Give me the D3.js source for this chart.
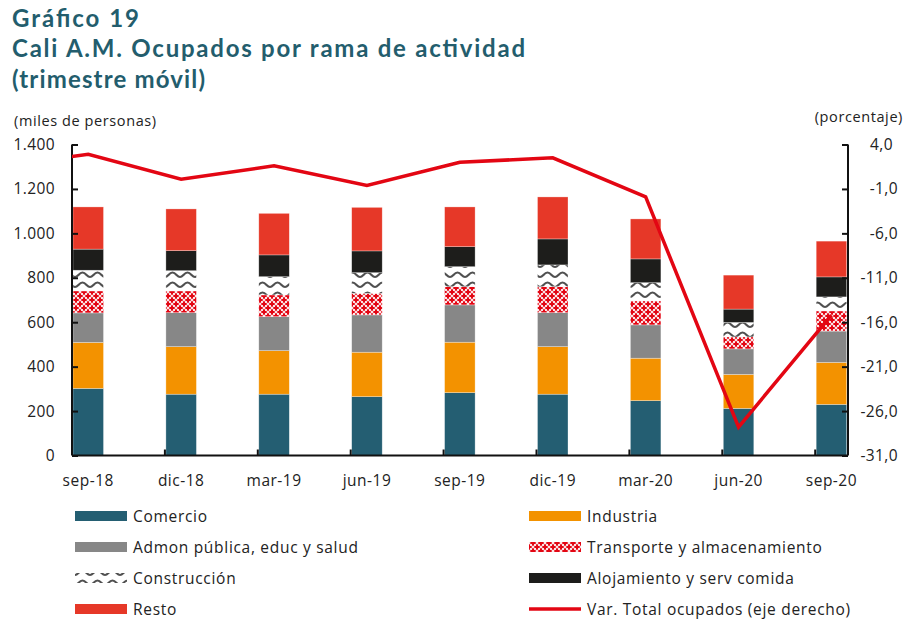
<!DOCTYPE html>
<meta charset="utf-8">
<script src="https://cdn.jsdelivr.net/npm/d3@7"></script>
<style>
  body { margin: 0; background: #fff; }
  text { font-family: "Open Sans", Lato, sans-serif; fill: #222; }
</style>
<div id="chart"></div>
<script>

// data (miles de personas)
var categories = ["sep-18","dic-18","mar-19","jun-19","sep-19","dic-19","mar-20","jun-20","sep-20"];
var comercio    = [302, 276, 276, 265, 283, 276, 247, 212, 230];
var industria   = [207, 214, 196, 200, 227, 214, 191, 153, 189];
var admon       = [133, 153, 153, 168, 168, 153, 150, 115, 141];
var transporte  = [ 99,  98,  98,  97,  82, 117, 108,  54,  91];
var construccion= [ 93,  91,  82,  93,  90,  98,  82,  65,  63];
var alojamiento = [ 95,  90,  98,  98,  90, 117, 107,  60,  90];
var resto       = [190, 188, 187, 196, 179, 189, 180, 153, 161];

// variacion anual total ocupados (%), the line starts one period before the first bar
var lineCats  = ["jun-18"].concat(categories);
var variacion = [1.4, 2.9, 0.1, 1.6, -0.6, 2.0, 2.5, -1.9, -27.8, -15.2];

var leftTicks  = [0, 200, 400, 600, 800, 1000, 1200, 1400];
var rightTicks = [4, -1, -6, -11, -16, -21, -26, -31];

var series = [
  {name: "Comercio", values: comercio, fill: "#245e72"},
  {name: "Industria", values: industria, fill: "#f39200"},
  {name: "Admon pública, educ y salud", values: admon, fill: "#878787"},
  {name: "Transporte y almacenamiento", values: transporte, fill: "url(#pat-transp)"},
  {name: "Construcción", values: construccion, fill: "url(#pat-constr)"},
  {name: "Alojamiento y serv comida", values: alojamiento, fill: "#1d1d1b"},
  {name: "Resto", values: resto, fill: "#e63828"}
];

var W = 912, H = 620;
var plot = {left: 72, right: 848, top: 144.5, bottom: 455.5};
var step = 92.9;

var svg = d3.select("#chart").append("svg")
    .attr("width", W)
    .attr("height", H);

// patterns
var defs = svg.append("defs");
var pt = defs.append("pattern")
    .attr("id", "pat-transp")
    .attr("patternUnits", "userSpaceOnUse")
    .attr("width", 8).attr("height", 8);
pt.append("rect").attr("width", 8).attr("height", 8).attr("fill", "#fbe3e5");
[[4, 4], [0, 0], [8, 0], [0, 8], [8, 8]].forEach(function(c) {
  pt.append("rect").attr("x", c[0] - 1).attr("y", c[1] - 2.7).attr("width", 2).attr("height", 5.4).attr("fill", "#e30613");
  pt.append("rect").attr("x", c[0] - 2.7).attr("y", c[1] - 1).attr("width", 5.4).attr("height", 2).attr("fill", "#e30613");
});

var pc = defs.append("pattern")
    .attr("id", "pat-constr")
    .attr("patternUnits", "userSpaceOnUse")
    .attr("width", 15).attr("height", 10);
pc.append("rect").attr("width", 15).attr("height", 10).attr("fill", "#fff");
pc.append("path")
    .attr("d", "M0,7 C3,7 4,2.5 7.5,2.5 C11,2.5 12,7 15,7")
    .attr("fill", "none")
    .attr("stroke", "#505050")
    .attr("stroke-width", 2.2);

defs.append("clipPath").attr("id", "clip")
  .append("rect")
    .attr("x", plot.left).attr("y", 0)
    .attr("width", plot.right - plot.left).attr("height", H);

// title
var titles = [
  {t: "Gráfico 19", y: 27, w: 127},
  {t: "Cali A.M. Ocupados por rama de actividad", y: 57, w: 513},
  {t: "(trimestre móvil)", y: 88, w: 193}
];
svg.selectAll(".title").data(titles).enter().append("text")
    .attr("class", "title")
    .attr("x", 12)
    .attr("y", function(d) { return d.y; })
    .attr("textLength", function(d) { return d.w; })
    .attr("lengthAdjust", "spacing")
    .style("font-family", "Lato, sans-serif")
    .style("font-size", "24px")
    .style("font-weight", "bold")
    .style("fill", "#235d6d")
    .text(function(d) { return d.t; });

// scales
var x = d3.scaleBand()
    .domain(categories)
    .range([plot.left, plot.left + step * categories.length]);
var xl = d3.scaleBand()
    .domain(lineCats)
    .range([plot.left - step, plot.left + step * categories.length]);
var y = d3.scaleLinear().domain([0, 1400]).range([plot.bottom, plot.top]);
var y2 = d3.scaleLinear().domain([-31, 4]).range([plot.bottom, plot.top]);

var barW = 30.5;

// stacked bars
var stackData = categories.map(function(c, i) {
  var o = {cat: c};
  series.forEach(function(s) { o[s.name] = s.values[i]; });
  return o;
});
var stack = d3.stack().keys(series.map(function(s) { return s.name; }))(stackData);

svg.append("g").selectAll("g").data(stack).enter().append("g")
    .attr("fill", function(d, i) { return series[i].fill; })
  .selectAll("rect").data(function(d) { return d; }).enter().append("rect")
    .attr("x", function(d) { return x(d.data.cat) + 1; })
    .attr("y", function(d) { return y(d[1]); })
    .attr("width", barW)
    .attr("height", function(d) { return y(d[0]) - y(d[1]); })
    .attr("stroke", "#fff")
    .attr("stroke-opacity", 0.5)
    .attr("stroke-width", 0.6);

// axes
var axisL = svg.append("g")
    .attr("transform", "translate(" + plot.left + ",0)")
    .call(d3.axisRight(y).tickValues(leftTicks).tickSize(6).tickFormat(""));
var axisR = svg.append("g")
    .attr("transform", "translate(" + plot.right + ",0)")
    .call(d3.axisLeft(y2).tickValues(rightTicks).tickSize(6).tickFormat(""));
[axisL, axisR].forEach(function(a) {
  a.select(".domain").attr("d", "M0," + plot.top + "V" + plot.bottom);
  a.selectAll("path, line").attr("stroke", "#111").attr("stroke-width", 2);
});

// x axis: ticks at the left edge of each category
var xa = svg.append("g");
xa.append("line")
    .attr("x1", plot.left).attr("x2", plot.right)
    .attr("y1", plot.bottom).attr("y2", plot.bottom)
    .attr("stroke", "#111").attr("stroke-width", 2);
xa.selectAll(".tk").data(categories.slice(1)).enter().append("line")
    .attr("x1", function(d) { return x(d); })
    .attr("x2", function(d) { return x(d); })
    .attr("y1", plot.bottom).attr("y2", plot.bottom - 6)
    .attr("stroke", "#111").attr("stroke-width", 2);
xa.selectAll(".lbl").data(categories).enter().append("text")
    .attr("x", function(d) { return x(d) + 1 + barW / 2; })
    .attr("y", 486)
    .attr("text-anchor", "middle")
    .style("font-size", "15.5px")
    .style("letter-spacing", "0.5px")
    .text(function(d) { return d; });

var fmtL = d3.format(",.0f");
svg.selectAll(".ltick").data(leftTicks).enter().append("text")
    .attr("x", 55)
    .attr("y", function(d) { return y(d) + 5.5; })
    .attr("text-anchor", "end")
    .style("font-size", "15.5px")
    .style("letter-spacing", "0.4px")
    .text(function(d) { return fmtL(d).replace(/,/g, "."); });

svg.selectAll(".rtick").data(rightTicks).enter().append("text")
    .attr("x", function(d) { return d >= 0 ? 893 : 898; })
    .attr("y", function(d) { return y2(d) + 5.5; })
    .attr("text-anchor", "end")
    .style("font-size", "15.5px")
    .style("letter-spacing", "0.4px")
    .text(function(d) { return d3.format(".1f")(d).replace(".", ",").replace("−", "-"); });

svg.append("text")
    .attr("x", 14).attr("y", 126)
    .style("font-size", "14.5px")
    .style("letter-spacing", "0.6px")
    .text("(miles de personas)");
svg.append("text")
    .attr("x", 903).attr("y", 122)
    .attr("text-anchor", "end")
    .style("font-size", "14.5px")
    .style("letter-spacing", "0.6px")
    .text("(porcentaje)");

// line
svg.append("path")
    .datum(variacion)
    .attr("clip-path", "url(#clip)")
    .attr("fill", "none")
    .attr("stroke", "#e30613")
    .attr("stroke-width", 3.5)
    .attr("d", d3.line()
      .x(function(d, i) { return xl(lineCats[i]) + 1 + barW / 2; })
      .y(function(d) { return y2(d); }));

// legend
var legendItems = [
  {name: "Comercio", fill: "#245e72"},
  {name: "Industria", fill: "#f39200"},
  {name: "Admon pública, educ y salud", fill: "#878787"},
  {name: "Transporte y almacenamiento", fill: "url(#pat-transp)"},
  {name: "Construcción", fill: "url(#pat-constr)"},
  {name: "Alojamiento y serv comida", fill: "#1d1d1b"},
  {name: "Resto", fill: "#e63828"},
  {name: "Var. Total ocupados (eje derecho)", line: "#e30613"}
];
var lg = svg.append("g").selectAll("g").data(legendItems).enter().append("g")
    .attr("transform", function(d, i) {
      return "translate(" + (i % 2 ? 529 : 75) + "," + (516 + Math.floor(i / 2) * 31) + ")";
    });
lg.filter(function(d) { return !d.line; }).append("rect")
    .attr("x", 0).attr("y", -5)
    .attr("width", 52).attr("height", 10)
    .attr("fill", function(d) { return d.fill; });
lg.filter(function(d) { return d.line; }).append("line")
    .attr("x1", 0).attr("x2", 52)
    .attr("stroke", function(d) { return d.line; })
    .attr("stroke-width", 3.5);
lg.append("text")
    .attr("x", 58).attr("y", 5.5)
    .style("font-size", "15.5px")
    .style("letter-spacing", "0.7px")
    .text(function(d) { return d.name; });

</script>
